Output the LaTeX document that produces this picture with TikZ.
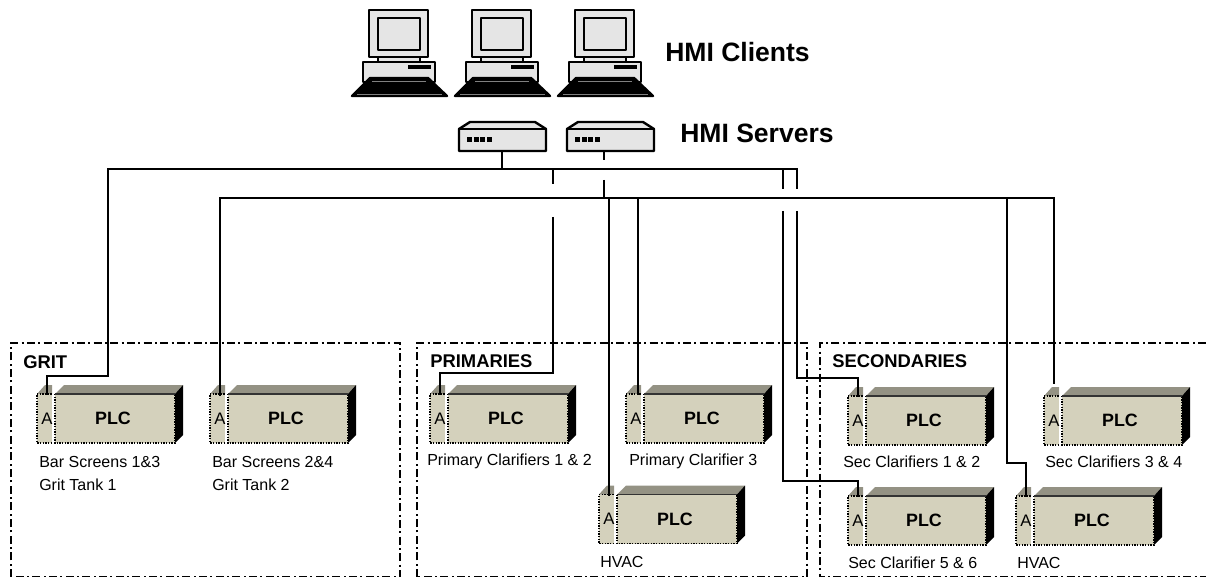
\documentclass[tikz,border=0pt]{standalone}
\usepackage{fontspec}
\setmainfont{Liberation Sans}
\tikzset{
    wire/.style={line width=1.5pt, black},
    frame/.style={line width=1.1pt, dash pattern=on 6pt off 2.5pt on 1.5pt off 2.5pt},
    tag/.style={font=\fontsize{12}{14}\selectfont, anchor=west, inner sep=0pt},
    zone/.style={font=\fontsize{13.8}{16}\selectfont\bfseries, anchor=west, inner sep=0pt},
    title/.style={font=\fontsize{19.9}{22}\selectfont\bfseries, anchor=west, inner sep=0pt},
    case/.style={fill=black!10, draw=black, line width=1.8pt, line join=round},
    pc/.pic={
        \draw[case] (-30,0) rectangle (29,47);
        \draw[case] (-21,8) rectangle (21,40);
        \draw[case] (-21,47) rectangle (21,52);
        \draw[case] (-36,52) rectangle (36,72);
        \fill[black] (9,55.5) rectangle (32,59.5);
        \draw[fill=black, line width=1.8pt, line join=round] (-47,86) -- (-29,68) -- (29,68) -- (48,86) -- cycle;
        \draw[black!50, line width=0.7pt] (-42,84) -- (43,84);
        \draw[black!50, line width=0.5pt] (-27,71) -- (27,71);
    },
    server/.pic={
        \draw[case] (0,7) -- (11,0) -- (76,0) -- (87,7) -- (87,29) -- (0,29) -- cycle;
        \draw[line width=1.8pt] (0,7) -- (87,7);
        \foreach \dotx in {8,14.5,21,27.5} {
            \fill[black] (\dotx,15) rectangle ++(5,5);
        }
        \coordinate (-port) at (43,29);
    },
    plc/.pic={
        \fill[black!30!plcface] (-18,0) -- (-10,-9) -- (-3,-9) -- (-3,0) -- cycle;
        \fill[plcface] (-18,0) rectangle (-3,49);
        \draw[densely dotted, line width=1pt] (-3,49) -- (-18,49) -- (-18,0) -- (-3,0);
        \fill[black!30!plcface] (0,0) -- (9,-9) -- (128,-9) -- (120,0) -- cycle;
        \fill[plcface] (0,0) rectangle (120,49);
        \fill[black] (120,0) -- (128,-9) -- (128,41) -- (120,49) -- cycle;
        \draw[densely dotted, line width=1pt] (0,0) rectangle (120,49);
        \draw[line width=1pt, black!80] (0,0) -- (120,0);
        \node[font=\fontsize{12.5}{13}\selectfont, inner sep=0pt] (-side) at (-8,24.5) {A};
        \node[font=\fontsize{13.4}{14}\selectfont\bfseries, inner sep=0pt] (-name) at (58,24.5) {PLC};
        \coordinate (-port) at (-8,1);
    },
}
\definecolor{plcface}{HTML}{D4D1BC}
\begin{document}
\begin{tikzpicture}[x=0.75pt, y=-0.75pt]
    \useasboundingbox (0,0) rectangle (1206,577);

    \draw[frame] (11,577) -- (11,343) -- (400,343) -- (400,577) -- cycle;
    \draw[frame] (417,577) -- (417,343) -- (807,343) -- (807,577) -- cycle;
    \draw[frame] (1206,343) -- (820,343) -- (820,577) -- (1206,577);

    \pic (pcone) at (399,10) {pc};
    \pic (pctwo) at (502,10) {pc};
    \pic (pcthree) at (605,10) {pc};
    \pic (srvone) at (459,122) {server};
    \pic (srvtwo) at (567,122) {server};

    \pic (plcgritone) at (55,394) {plc};
    \pic (plcgrittwo) at (228,394) {plc};
    \pic (plcprimone) at (448,394) {plc};
    \pic (plcprimtwo) at (644,394) {plc};
    \pic (plcprimhvac) at (617,494.5) {plc};
    \pic (plcsecone) at (866,396) {plc};
    \pic (plcsectwo) at (1062,396) {plc};
    \pic (plcsecthree) at (866,496) {plc};
    \pic (plcsechvac) at (1034,496) {plc};

    \node[title] (clients) at (665,52) {HMI Clients};
    \node[title] (servers) at (680,133) {HMI Servers};
    \node[zone] (grit) at (23,362) {GRIT};
    \node[zone] (primaries) at (430,361) {PRIMARIES};
    \node[zone] (secondaries) at (832,361) {SECONDARIES};

    \node[tag] (tagbarone) at (39,462) {Bar Screens 1\&3};
    \node[tag] (taggritone) at (39,485) {Grit Tank 1};
    \node[tag] (tagbartwo) at (212,462) {Bar Screens 2\&4};
    \node[tag] (taggrittwo) at (212,485) {Grit Tank 2};
    \node[tag] (tagprimone) at (427,461) {Primary Clarifiers 1 \& 2};
    \node[tag] (tagprimtwo) at (629,461) {Primary Clarifier 3};
    \node[tag] (tagprimhvac) at (600,562) {HVAC};
    \node[tag] (tagsecone) at (843,462) {Sec Clarifiers 1 \& 2};
    \node[tag] (tagsectwo) at (1045,462) {Sec Clarifiers 3 \& 4};
    \node[tag] (tagsecthree) at (848,563) {Sec Clarifier 5 \& 6};
    \node[tag] (tagsechvac) at (1017,563) {HVAC};

    \coordinate (busonel) at (108,169);
    \coordinate (busoner) at (797,169);
    \coordinate (bustwol) at (220,198);
    \coordinate (bustwor) at (1054,198);
    \coordinate (stubsrvtwo) at (604,160);
    \coordinate (stubbustwo) at (604,180);
    \coordinate (stubprimtop) at (553,184);
    \coordinate (stubprimlow) at (553,217);
    \coordinate (stubsecin) at (783,189);
    \coordinate (stubsecinlow) at (783,211);
    \coordinate (stubsecout) at (797,189);
    \coordinate (stubsecoutlow) at (797,211);
    \coordinate (dropprimhvac) at (609,198);
    \coordinate (dropprimtwo) at (638,198);
    \coordinate (dropsechvac) at (1007,198);
    \coordinate (endsectwo) at (1054,383);
    \coordinate (bendgritone) at (108,376);
    \coordinate (bendprimone) at (553,373);
    \coordinate (bendsecone) at (797,378);
    \coordinate (bendsecthree) at (783,481);
    \coordinate (bendsechvac) at (1007,463);

    \draw[wire] (srvone-port) -- (srvone-port |- busonel);
    \draw[wire] (stubsrvtwo |- srvtwo-port) -- (stubsrvtwo);
    \draw[wire] (stubbustwo) -- (stubbustwo |- bustwol);
    \draw[wire] (busonel -| stubprimtop) -- (stubprimtop);
    \draw[wire] (busonel -| stubsecin) -- (stubsecin);
    \draw[wire] (busoner) -- (stubsecout);

    \draw[wire, line cap=rect] (bendgritone) -- (busonel) -- (busoner);
    \draw[wire] (bendgritone) -| (plcgritone-port);
    \draw[wire, line cap=rect] (plcgrittwo-port) -- (bustwol) -- (bustwor) -- (endsectwo);

    \draw[wire] (stubprimlow) -- (bendprimone) -| (plcprimone-port);
    \draw[wire] (dropprimhvac) -- (dropprimhvac |- plcprimhvac-port);
    \draw[wire] (dropprimtwo) -- (dropprimtwo |- plcprimtwo-port);
    \draw[wire] (stubsecinlow) -- (bendsecthree) -| (plcsecthree-port);
    \draw[wire] (stubsecoutlow) -- (bendsecone) -| (plcsecone-port);
    \draw[wire] (dropsechvac) -- (bendsechvac) -| (plcsechvac-port);
\end{tikzpicture}
\end{document}
